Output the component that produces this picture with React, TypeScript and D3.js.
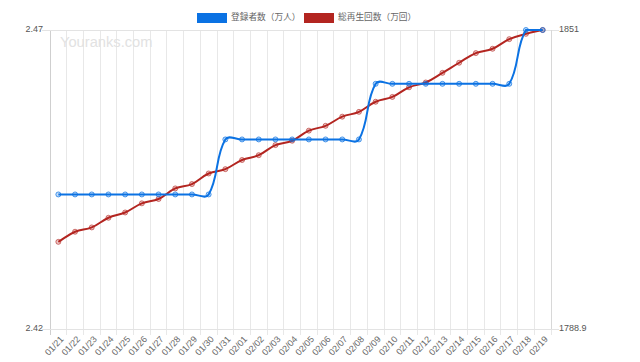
import React, { useEffect, useRef } from 'react';
import * as d3 from 'd3';

// data
const dates = [
  '01/21', '01/22', '01/23', '01/24', '01/25', '01/26', '01/27', '01/28', '01/29', '01/30',
  '01/31', '02/01', '02/02', '02/03', '02/04', '02/05', '02/06', '02/07', '02/08', '02/09',
  '02/10', '02/11', '02/12', '02/13', '02/14', '02/15', '02/16', '02/17', '02/18', '02/19',
];
// 登録者数（万人）
const subscribers = [
  2.4425, 2.4425, 2.4425, 2.4425, 2.4425, 2.4425, 2.4425, 2.4425, 2.4425, 2.4425,
  2.4517, 2.4517, 2.4517, 2.4517, 2.4517, 2.4517, 2.4517, 2.4517, 2.4517, 2.461,
  2.461, 2.461, 2.461, 2.461, 2.461, 2.461, 2.461, 2.461, 2.47, 2.47,
];
// 総再生回数（万回）
const plays = [
  1807.0, 1809.1, 1810.0, 1812.0, 1813.1, 1815.0, 1815.9, 1818.1, 1819.0, 1821.2,
  1822.1, 1824.0, 1825.0, 1827.1, 1828.0, 1830.1, 1831.1, 1833.0, 1834.0, 1836.1,
  1837.1, 1839.1, 1840.1, 1842.1, 1844.2, 1846.2, 1847.1, 1849.1, 1850.2, 1851.0,
];
const leftTicks = [2.42, 2.47];
const rightTicks = [1788.9, 1851];
const seriesNames = ['登録者数（万人）', '総再生回数（万回）'];

const BLUE = '#0b72e3';
const RED = '#b32520';

type Pt = { x: number; y: number };

// tension spline like the original chart library, control points kept inside the plot
const splinePath = (pts: Pt[], t: number, top: number, bottom: number) => {
  const cps = pts.map((cur, i) => {
    const prev = pts[i - 1] || cur;
    const next = pts[i + 1] || cur;
    const d01 = Math.hypot(cur.x - prev.x, cur.y - prev.y);
    const d12 = Math.hypot(next.x - cur.x, next.y - cur.y);
    let s01 = d01 / (d01 + d12);
    let s12 = d12 / (d01 + d12);
    if (isNaN(s01)) s01 = 0;
    if (isNaN(s12)) s12 = 0;
    const fa = t * s01;
    const fb = t * s12;
    const clamp = (v: number) => Math.max(top, Math.min(bottom, v));
    return {
      p: { x: cur.x - fa * (next.x - prev.x), y: clamp(cur.y - fa * (next.y - prev.y)) },
      n: { x: cur.x + fb * (next.x - prev.x), y: clamp(cur.y + fb * (next.y - prev.y)) },
    };
  });
  const path = d3.path();
  pts.forEach((pt, i) => {
    if (i === 0) path.moveTo(pt.x, pt.y);
    else path.bezierCurveTo(cps[i - 1].n.x, cps[i - 1].n.y, cps[i].p.x, cps[i].p.y, pt.x, pt.y);
  });
  return path.toString();
};

const App = () => {
  const svgRef = useRef<SVGSVGElement>(null);

  useEffect(() => {
    const margin = { top: 30, right: 89, bottom: 33, left: 50 };
    const W = 640;
    const H = 362;
    const left = margin.left;
    const right = W - margin.right;
    const top = margin.top;
    const bottom = H - margin.bottom;

    const svg = d3.select(svgRef.current);
    svg.selectAll('*').remove();
    svg.attr('width', W).attr('height', H);

    const x = d3.scaleBand().domain(dates).range([left, right]).padding(0);
    const cx = (d: string) => (x(d) as number) + x.bandwidth() / 2;
    const yL = d3.scaleLinear().domain([2.42, 2.47]).range([bottom, top]);
    const yR = d3.scaleLinear().domain([1788.9, 1851]).range([bottom, top]);

    const font = '"Liberation Sans", Arial, Helvetica, sans-serif';

    // vertical grid
    const grid = svg.append('g');
    const bounds = dates.map(d => x(d) as number).concat([right]);
    grid.selectAll('.vg')
      .data(bounds)
      .enter()
      .append('line')
      .attr('x1', d => d).attr('x2', d => d)
      .attr('y1', top).attr('y2', bottom + 6)
      .attr('stroke', d => (d === left ? '#cfcfcf' : '#e8e8e8'))
      .attr('stroke-width', 1)
      .attr('shape-rendering', 'crispEdges');

    // horizontal grid at the two ticks
    grid.selectAll('.hg')
      .data(leftTicks)
      .enter()
      .append('line')
      .attr('x1', left - 8).attr('x2', right + 8)
      .attr('y1', d => yL(d)).attr('y2', d => yL(d))
      .attr('stroke', '#e3e3e3')
      .attr('shape-rendering', 'crispEdges');

    // right axis line
    grid.append('line')
      .attr('x1', right).attr('x2', right)
      .attr('y1', top).attr('y2', bottom)
      .attr('stroke', '#d8d8d8')
      .attr('shape-rendering', 'crispEdges');

    // watermark
    svg.append('text')
      .attr('x', 60).attr('y', 47)
      .style('font-family', font)
      .style('font-size', '14.7px')
      .style('fill', '#e2e2e2')
      .text('Youranks.com');

    // left ticks
    svg.selectAll('.lt')
      .data(leftTicks)
      .enter()
      .append('text')
      .attr('x', left - 7).attr('y', d => yL(d))
      .attr('text-anchor', 'end')
      .attr('dominant-baseline', 'middle')
      .style('font-family', font).style('font-size', '9px').style('fill', '#555')
      .text(d => d.toString());

    // right ticks
    svg.selectAll('.rt')
      .data(rightTicks)
      .enter()
      .append('text')
      .attr('x', right + 8).attr('y', d => yR(d))
      .attr('dominant-baseline', 'middle')
      .style('font-family', font).style('font-size', '9px').style('fill', '#555')
      .text(d => d.toString());

    // x labels
    svg.selectAll('.xl')
      .data(dates)
      .enter()
      .append('text')
      .attr('transform', d => `translate(${cx(d) + 4},${bottom + 9}) rotate(-47)`)
      .attr('text-anchor', 'end')
      .attr('dominant-baseline', 'middle')
      .style('font-family', font).style('font-size', '9px').style('fill', '#666')
      .text(d => d);

    // red series (drawn first, underneath)
    const redPts = dates.map((d, i) => ({ x: cx(d), y: yR(plays[i]) }));
    svg.append('path')
      .attr('d', splinePath(redPts, 0.4, top, bottom))
      .attr('fill', 'none').attr('stroke', RED).attr('stroke-width', 2);
    svg.selectAll('.rp')
      .data(redPts)
      .enter()
      .append('circle')
      .attr('cx', d => d.x).attr('cy', d => d.y).attr('r', 2.5)
      .attr('fill', 'rgba(179,37,32,0.25)').attr('stroke', 'rgba(179,37,32,0.6)').attr('stroke-width', 1);

    // blue series on top
    const bluePts = dates.map((d, i) => ({ x: cx(d), y: yL(subscribers[i]) }));
    svg.append('path')
      .attr('d', splinePath(bluePts, 0.4, top, bottom))
      .attr('fill', 'none').attr('stroke', BLUE).attr('stroke-width', 2);
    svg.selectAll('.bp')
      .data(bluePts)
      .enter()
      .append('circle')
      .attr('cx', d => d.x).attr('cy', d => d.y).attr('r', 2.5)
      .attr('fill', 'rgba(11,114,227,0.25)').attr('stroke', 'rgba(11,114,227,0.7)').attr('stroke-width', 1);

    // legend
    const legend = [
      { name: seriesNames[0], color: BLUE, x: 197 },
      { name: seriesNames[1], color: RED, x: 304 },
    ];
    const lg = svg.selectAll('.lg').data(legend).enter().append('g');
    lg.append('rect')
      .attr('x', d => d.x).attr('y', 13).attr('width', 30).attr('height', 10)
      .attr('fill', d => d.color);
    lg.append('text')
      .attr('x', d => d.x + 34).attr('y', 18)
      .attr('dominant-baseline', 'middle')
      .style('font-family', '"Noto Sans CJK JP", sans-serif')
      .style('font-size', '8.7px').style('fill', '#666')
      .text(d => d.name);
  }, []);

  return (
    <svg ref={svgRef} style={{ position: 'absolute', left: 0, top: 0, background: '#fff' }}></svg>
  );
};

export default App;
